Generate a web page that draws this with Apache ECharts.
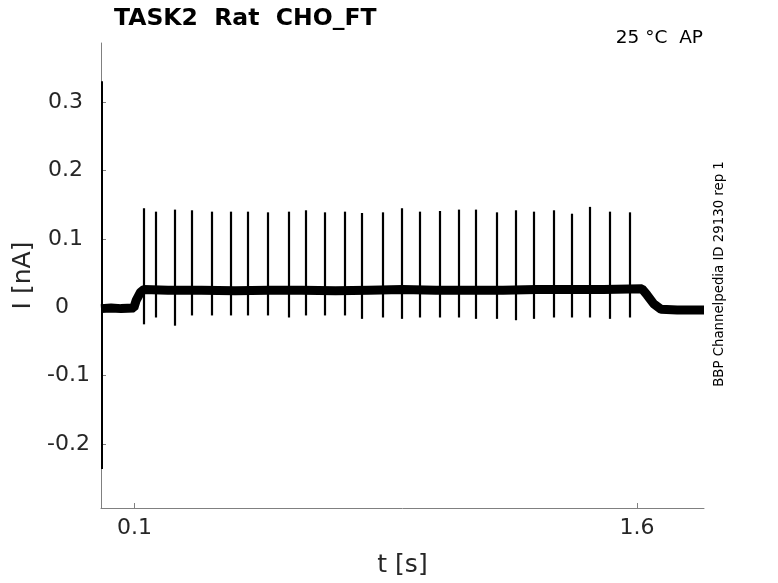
<!DOCTYPE html>
<html>
<head>
<meta charset="utf-8">
<script src="https://cdn.jsdelivr.net/npm/echarts@6/dist/echarts.min.js"></script>
<style>
html,body{margin:0;padding:0;background:#fff;}
#chart{width:778px;height:583px;}
</style>
</head>
<body>
<div id="chart"></div>
<script>
// ---- data ----
const titleText = 'TASK2  Rat  CHO_FT';
const cornerText = '25 °C  AP';
const sideText = 'BBP Channelpedia ID 29130 rep 1';
const xTicks = [0.1, 1.6];
const yTicks = [-0.2, -0.1, 0, 0.1, 0.2, 0.3];

// slowly varying mean of the noisy trace (t in s, I in nA)
const baseT = [0.000, 0.030, 0.060, 0.098, 0.105, 0.118, 0.128, 0.200, 0.300, 0.400, 0.500, 0.600, 0.700, 0.800, 0.900, 1.000, 1.100, 1.200, 1.300, 1.400, 1.500, 1.615, 1.630, 1.650, 1.672, 1.720, 1.800];
const baseV = [-0.002, -0.001, -0.002, -0.001, 0.010, 0.022, 0.026, 0.025, 0.025, 0.024, 0.025, 0.025, 0.024, 0.025, 0.026, 0.025, 0.025, 0.025, 0.026, 0.026, 0.026, 0.027, 0.018, 0.005, -0.003, -0.004, -0.004];

// action-potential spikes: time, peak, trough
const spikeT = [0.128, 0.163, 0.219, 0.271, 0.330, 0.387, 0.438, 0.499, 0.559, 0.610, 0.669, 0.727, 0.778, 0.840, 0.899, 0.951, 1.010, 1.067, 1.118, 1.180, 1.239, 1.291, 1.350, 1.406, 1.458, 1.519, 1.579];
const spikePeak = [0.145, 0.140, 0.143, 0.142, 0.140, 0.140, 0.140, 0.139, 0.140, 0.142, 0.139, 0.140, 0.138, 0.139, 0.145, 0.140, 0.141, 0.143, 0.143, 0.139, 0.142, 0.140, 0.142, 0.137, 0.147, 0.140, 0.139];
const spikeTrough = [-0.025, -0.015, -0.027, -0.012, -0.012, -0.012, -0.012, -0.012, -0.015, -0.012, -0.012, -0.012, -0.017, -0.015, -0.017, -0.015, -0.015, -0.015, -0.017, -0.017, -0.019, -0.017, -0.015, -0.015, -0.015, -0.017, -0.015];

// capacitive transient at the start of the sweep
const transientT = [0.001];
const transientHigh = [0.331];
const transientLow = [-0.237];

// ---- build ----
const baseData = baseT.map((t, i) => [t, baseV[i]]);
const spikeLines = spikeT.map((t, i) => ({coords: [[t, spikePeak[i]], [t, spikeTrough[i]]]}));
const transientLines = transientT.map((t, i) => ({coords: [[t, transientHigh[i]], [t, transientLow[i]]]}));

const FONT = 'DejaVu Sans';
const axisGray = '#808080';
const labelColor = '#262626';

function yLabel(v) {
  let s = (Math.abs(v) < 1e-9) ? '0' : String(Math.round(v * 10) / 10);
  while (s.length < 4) s += ' ';
  return s;
}

const chart = echarts.init(document.getElementById('chart'), null, {renderer: 'canvas'});
chart.setOption({
  animation: false,
  backgroundColor: '#fff',
  title: {
    text: titleText,
    left: 109, top: 2,
    textStyle: {fontFamily: FONT, fontSize: 23.5, fontWeight: 'bold', color: '#000'}
  },
  grid: {left: 101, right: 74, top: 43, bottom: 71, containLabel: false},
  xAxis: {
    type: 'value', min: 0, max: 1.8,
    name: 't [s]', nameLocation: 'middle', nameGap: 45,
    nameTextStyle: {fontFamily: FONT, fontSize: 25, color: labelColor},
    axisLine: {show: true, onZero: false, lineStyle: {color: axisGray, width: 1}},
    axisTick: {show: true, inside: true, length: 5, customValues: xTicks, lineStyle: {color: axisGray}},
    axisLabel: {show: true, customValues: xTicks, margin: 9, fontFamily: FONT, fontSize: 22, color: labelColor,
      formatter: v => String(v)},
    splitLine: {show: false}
  },
  yAxis: {
    type: 'value', min: -0.294, max: 0.387,
    name: 'I [nA]', nameLocation: 'middle', nameGap: 56, nameRotate: 90,
    nameTextStyle: {fontFamily: FONT, fontSize: 25, color: labelColor},
    axisLine: {show: true, onZero: false, lineStyle: {color: axisGray, width: 1}},
    axisTick: {show: true, inside: true, length: 5, customValues: yTicks, lineStyle: {color: axisGray}},
    axisLabel: {show: true, customValues: yTicks, margin: 11, fontFamily: FONT, fontSize: 22, color: labelColor,
      formatter: yLabel},
    splitLine: {show: false}
  },
  graphic: [
    {type: 'text', right: 75, top: 29, style: {text: cornerText, font: '18.5px "DejaVu Sans"', fill: '#000'}},
    {type: 'text', x: 720, y: 274, rotation: Math.PI / 2,
      style: {text: sideText, font: '13.3px "DejaVu Sans"', fill: '#000', align: 'center', verticalAlign: 'middle'}}
  ],
  series: [
    {type: 'line', data: baseData, showSymbol: false, smooth: false,
      lineStyle: {color: '#000', width: 9}, z: 2},
    {type: 'lines', coordinateSystem: 'cartesian2d', data: spikeLines,
      lineStyle: {color: '#000', width: 2.2, opacity: 1}, z: 3},
    {type: 'lines', coordinateSystem: 'cartesian2d', data: transientLines,
      lineStyle: {color: '#000', width: 2, opacity: 1}, z: 3}
  ]
});
</script>
</body>
</html>
